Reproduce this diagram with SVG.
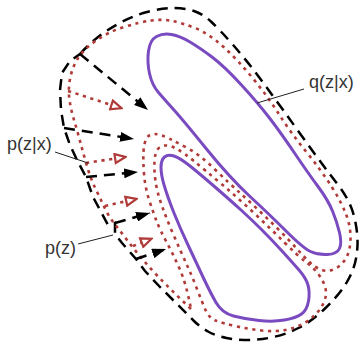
<svg xmlns="http://www.w3.org/2000/svg" width="363" height="347" viewBox="0 0 363 347">
<style>
.purple{fill:none;stroke:#7a4bc0;stroke-width:3;stroke-linejoin:round}
.red{fill:none;stroke:#b03a37;stroke-width:2.6;stroke-dasharray:3.2 4.6}
.black{fill:none;stroke:#000;stroke-width:2.5;stroke-dasharray:11 7}
.lead{fill:none;stroke:#222;stroke-width:1}
.lbl{font-family:"Liberation Sans",Arial,sans-serif;font-size:18px;fill:#333}
</style>
<defs>
<marker id="ah" viewBox="0 0 14 10" refX="14" refY="5" markerWidth="14" markerHeight="10" markerUnits="userSpaceOnUse" orient="auto"><path d="M0,0 L14,5 L0,10 Z" fill="#000"/></marker>
<marker id="ot" viewBox="0 0 14 12" refX="12" refY="6" markerWidth="14" markerHeight="12" markerUnits="userSpaceOnUse" orient="auto"><path d="M2,1.5 L12.5,6 L2,10.5 Z" fill="#fff" stroke="#b03a37" stroke-width="2.2"/></marker>
</defs>
<rect width="363" height="347" fill="#fff"/>
<g id="prior-p-z">
<path class="black" d="M80,54 Q90,43 100,35.5 Q110,28 122.5,21.5 Q135,15 149,11.5 Q163,8 174,8 Q185,8 194,11 Q203,14 211.5,22 Q220,30 234,46 Q248,62 264.5,84.5 Q281,107 302.5,137 Q324,167 337,183.5 Q350,200 354,216 Q358,232 357.5,245 Q357,258 353.5,268 Q350,278 343.5,287.5 Q337,297 324.5,309 Q312,321 299.5,327.5 Q287,334 273.5,337 Q260,340 248.5,340 Q237,340 226.5,338 Q216,336 208,331.5 Q200,327 194,321 L188,315 L175,302 L160,287 L145,271 L136,259 L122,243 L115,234 L115,223 L108,225 L100,210 L93,197 L86,177 L77,160 L70,145 L64,128 L61,110 L60,90 L62,73 L70,61 Z"/>
</g>
<g id="true-posterior-p-z-x">
<path class="red" d="M191,309 Q170,289 160,278.5 Q150,268 141.5,258 Q133,248 127,240 Q121,232 115,224.5 Q109,217 104.5,207.5 Q100,198 95,187.5 Q90,177 86.5,164.5 Q83,152 80,141 Q77,130 74,120 Q71,110 69.5,100 Q68,90 70,79 Q72,68 77.5,59 Q83,50 95.5,41 Q108,32 124,27 Q140,22 151.5,20.5 Q163,19 172.5,21 Q182,23 195,28 Q208,33 223,46.5 Q238,60 253,78.5 Q268,97 279.5,115 Q291,133 306,151.5 Q321,170 331.5,186.5 Q342,203 346.5,215.5 Q351,228 350.5,240 Q350,252 345.5,259 Q341,266 334.5,269 Q328,272 322,270 Q316,268 310.5,263 Q305,258 297.5,249.5 Q290,241 280,231 Q270,221 260,211.5 Q250,202 240,193 Q230,184 215,169.5 Q200,155 189,149 Q178,143 169,138.5 Q160,134 154.5,134 Q149,134 146.5,138.5 Q144,143 143.5,151.5 Q143,160 144,173.5 Q145,187 149,199.5 Q153,212 156.5,221 Q160,230 166.5,242 Q173,254 179.5,268.5 Q186,283 191,309 Z"/>
<path class="red" d="M157.5,149.5 Q160,146 165,145.5 Q170,145 177,149 Q184,153 194.5,161.5 Q205,170 221.5,184 Q238,198 254.5,213.5 Q271,229 284.5,242.5 Q298,256 306,262 Q314,268 319,275 Q324,282 325.5,288.5 Q327,295 324,302 Q321,309 315.5,314.5 Q310,320 302.5,324 Q295,328 285,330 Q275,332 261.5,330.5 Q248,329 235,326 Q222,323 215.5,320.5 Q209,318 205.5,310 Q202,302 197,289 Q192,276 186.5,264 Q181,252 174,236 Q167,220 162,206 Q157,192 155.5,181 Q154,170 154.5,161.5 Q155,153 157.5,149.5 Z"/>
</g>
<g id="approx-posterior-q-z-x">
<path class="purple" d="M148.5,51 Q150,40 156.5,36.5 Q163,33 171.5,34.5 Q180,36 190,42 Q200,48 212,57 Q224,66 241,84.5 Q258,103 269.5,118 Q281,133 294.5,153 Q308,173 318,186.5 Q328,200 332.5,211 Q337,222 339.5,232.5 Q342,243 339.5,248.5 Q337,254 327.5,254.5 Q318,255 310.5,251.5 Q303,248 286.5,231.5 Q270,215 250,196.5 Q230,178 206.5,149 Q183,120 174,110 Q165,100 158.5,92.5 Q152,85 149.5,73.5 Q147,62 148.5,51 Z"/>
<path class="purple" d="M164.5,157 Q168,154 174,156 Q180,158 190,166 Q200,174 215,187 Q230,200 241,210 Q252,220 262,230 Q272,240 282,251 Q292,262 299,270 Q306,278 308,285 Q310,292 308.5,301 Q307,310 301.5,314 Q296,318 284.5,320 Q273,322 259,320.5 Q245,319 233.5,316 Q222,313 216,302.5 Q210,292 203,277 Q196,262 188,245 Q180,228 174,213 Q168,198 164.5,186.5 Q161,175 161,167.5 Q161,160 164.5,157 Z"/>
</g>
<g id="connectors">
<path class="black" marker-end="url(#ah)" d="M80,54 L148,110"/>
<path class="black" marker-end="url(#ah)" d="M64,128 L134,139"/>
<path class="black" marker-end="url(#ah)" d="M86,177 L138,172"/>
<path class="black" marker-end="url(#ah)" d="M115,223 L150,213"/>
<path class="black" marker-end="url(#ah)" d="M136,259 L166,249"/>
<path class="red" marker-end="url(#ot)" d="M68,91 L121,108"/>
<path class="red" marker-end="url(#ot)" d="M86,163 L125,157"/>
<path class="red" marker-end="url(#ot)" d="M105,206 L136,199"/>
<path class="red" marker-end="url(#ot)" d="M133,246 L151,239"/>
<path class="lead" d="M55,152 L88,163"/>
<path class="lead" d="M78,244 L113,235"/>
<path class="lead" d="M304,89 L257,103"/>
</g>
<g id="labels">
<text class="lbl" x="309" y="88">q(z|x)</text>
<text class="lbl" x="7" y="150">p(z|x)</text>
<text class="lbl" x="45" y="254">p(z)</text>
</g>
</svg>
